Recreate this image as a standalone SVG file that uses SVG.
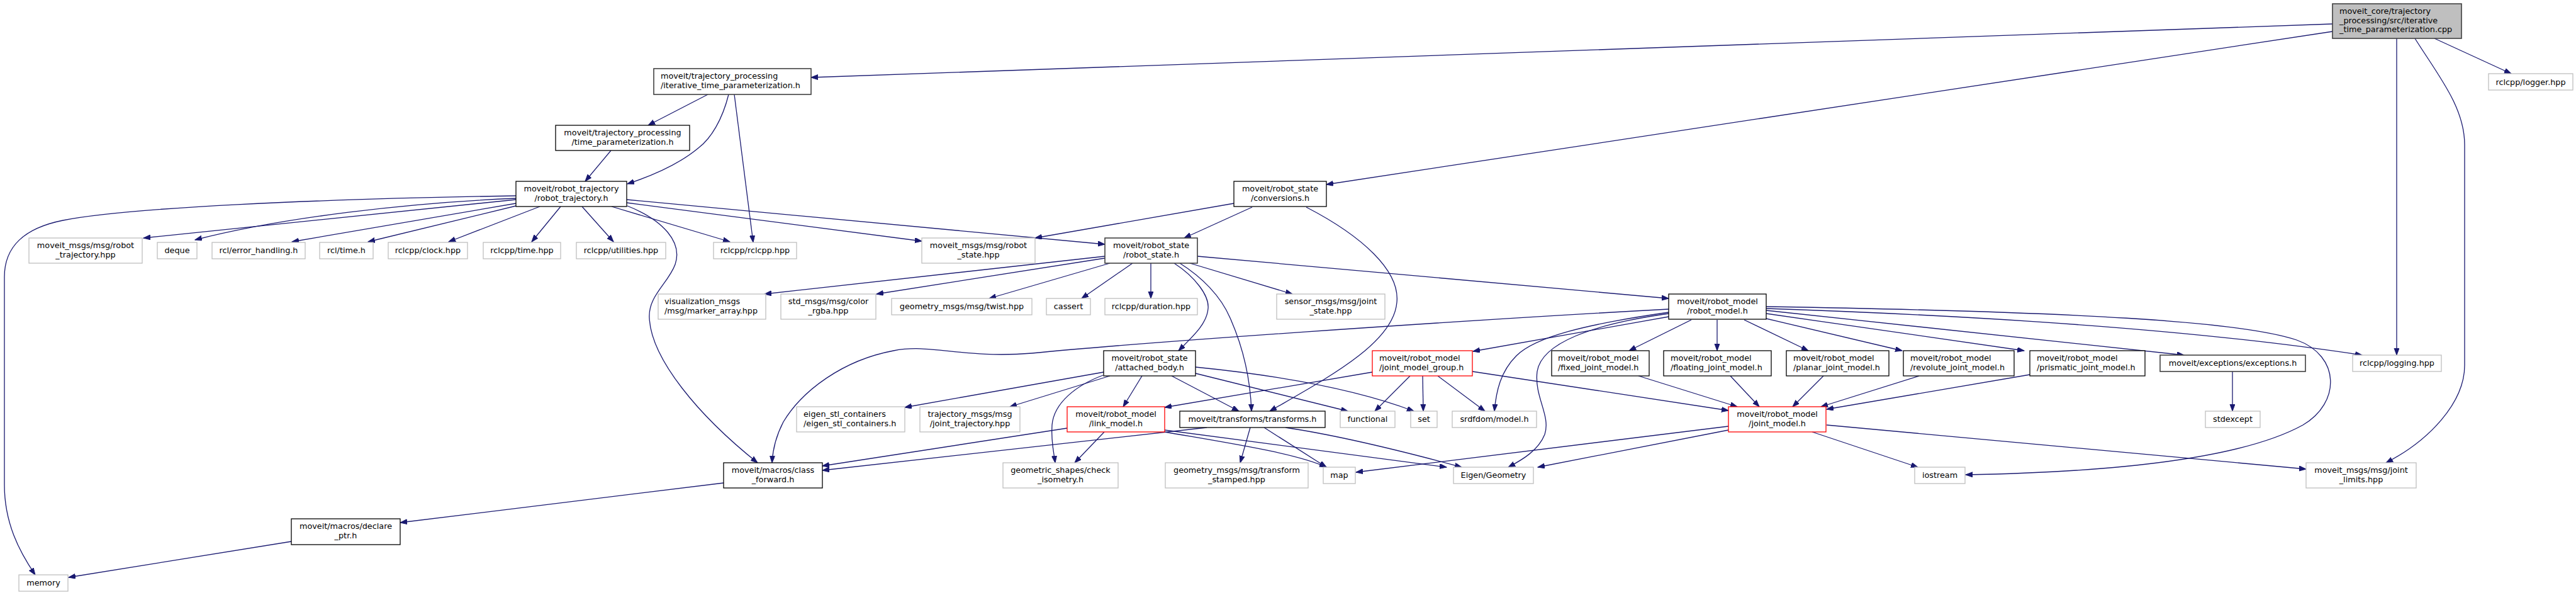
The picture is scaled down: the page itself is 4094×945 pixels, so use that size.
<svg xmlns="http://www.w3.org/2000/svg" width="4094" height="945" viewBox="0 0 4094 945">
<style>
.bg{fill:#ffffff}
.gray{fill:#ffffff;stroke:#bfbfbf;stroke-width:1.3}
.blk{fill:#ffffff;stroke:#000000;stroke-width:1.3}
.dk{fill:#ffffff;stroke:#404040;stroke-width:1.6}
.red{fill:#ffffff;stroke:#ff0000;stroke-width:1.3}
.root{fill:#bfbfbf;stroke:#404040;stroke-width:1.6}
text{font-family:'DejaVu Sans','Liberation Sans',sans-serif;font-size:12.8px;fill:#000000}
.c{text-anchor:middle}
.e path{fill:none;stroke:#191970;stroke-width:1.3;marker-end:url(#ah)}
</style>
<defs>
<marker id="ah" markerWidth="12" markerHeight="10" refX="11" refY="4" orient="auto" markerUnits="userSpaceOnUse"><path d="M0,0 L11,4 L0,8 Z" fill="#191970" stroke="#191970" stroke-width="1"/></marker>
</defs>
<rect class="bg" x="0" y="0" width="4094" height="945"/>
<g id="connectors" class="e">
<path d="M3707,38 L1289,123"/>
<path d="M3707,50 L2108,293"/>
<path d="M3869,61 L3991,117"/>
<path d="M3809,61 L3809,564"/>
<path d="M3838,61 C3875,120 3917,170 3917,230 L3917,580 C3917,640 3860,700 3792,735"/>
<path d="M1125,150 L1030,199"/>
<path d="M1158,150 C1148,190 1130,220 1110,235 C1080,260 1040,278 997,292"/>
<path d="M1167,150 L1197,385"/>
<path d="M971,239 L930,288"/>
<path d="M820,311 C500,316 200,330 100,350 C40,362 7,390 7,440 L7,770 C7,830 30,875 56,913"/>
<path d="M820,315 C650,322 450,345 310,381"/>
<path d="M820,317 L228,378"/>
<path d="M820,323 L464,384"/>
<path d="M820,327 L585,384"/>
<path d="M858,328 L713,384"/>
<path d="M891,328 L845,384"/>
<path d="M925,328 L975,384"/>
<path d="M972,328 L1160,384"/>
<path d="M997,327 C1055,350 1085,385 1073,420 C1062,450 1030,470 1032,505 C1035,570 1110,660 1204,735"/>
<path d="M996,317 L1756,388"/>
<path d="M996,322 L1465,383"/>
<path d="M1961,323 L1645,378"/>
<path d="M1990,329 L1882,378"/>
<path d="M2076,329 C2165,375 2225,430 2220,480 C2215,545 2110,600 2018,653"/>
<path d="M1756,407 L1215,467"/>
<path d="M1756,410 L1393,467"/>
<path d="M1764,418 L1572,474"/>
<path d="M1800,418 L1719,474"/>
<path d="M1829,418 L1829,474"/>
<path d="M1866,418 C1900,440 1922,470 1920,490 C1918,515 1895,535 1873,557"/>
<path d="M1875,418 C1910,440 1940,470 1955,505 C1975,550 1987,600 1989,653"/>
<path d="M1891,418 L2054,467"/>
<path d="M1903,407 L2652,474"/>
<path d="M2652,491 C2300,510 1800,545 1640,561 C1530,570 1480,545 1420,557 C1340,572 1275,620 1245,670 C1232,695 1228,715 1227,735"/>
<path d="M1696,680 L1307,740"/>
<path d="M1918,679 L1307,747"/>
<path d="M1150,767 L636,830"/>
<path d="M463,860 L109,917"/>
<path d="M1754,591 L1438,647"/>
<path d="M1764,597 L1605,646"/>
<path d="M1753,596 C1710,612 1675,640 1672,675 C1670,700 1675,720 1677,735"/>
<path d="M1815,597 L1785,646"/>
<path d="M1862,597 L1969,653"/>
<path d="M1900,583 Q2120,605 2247,653"/>
<path d="M1900,593 L2142,653"/>
<path d="M2181,591 L1851,647"/>
<path d="M2241,597 L2185,653"/>
<path d="M2261,597 L2262,653"/>
<path d="M2285,597 L2360,653"/>
<path d="M2340,590 L2747,652"/>
<path d="M1755,686 L1708,735"/>
<path d="M1851,683 Q2100,715 2299,742"/>
<path d="M1851,686 C1960,705 2060,720 2108,742"/>
<path d="M2009,679 L2108,742"/>
<path d="M2043,679 Q2150,695 2323,742"/>
<path d="M1987,679 L1971,735"/>
<path d="M2652,498 C2530,515 2450,545 2443,590 C2438,630 2465,660 2455,690 C2445,715 2420,730 2397,742"/>
<path d="M2652,496 C2520,515 2440,535 2410,565 C2385,590 2378,620 2375,653"/>
<path d="M2652,503 L2341,558"/>
<path d="M2688,508 L2589,557"/>
<path d="M2729,508 L2729,557"/>
<path d="M2772,508 L2874,557"/>
<path d="M2807,506 L3023,557"/>
<path d="M2807,498 L3217,557"/>
<path d="M2807,493 L3471,564"/>
<path d="M2807,490 Q3400,510 3754,564"/>
<path d="M2807,487 C3300,495 3560,510 3650,540 C3720,565 3720,640 3660,675 C3560,730 3350,750 3124,754"/>
<path d="M2604,597 L2761,646"/>
<path d="M2750,597 L2796,646"/>
<path d="M2898,597 L2849,646"/>
<path d="M3050,597 L2894,646"/>
<path d="M3226,595 L2903,650"/>
<path d="M2880,686 L3048,742"/>
<path d="M2903,675 L3665,745"/>
<path d="M2747,677 L2155,750"/>
<path d="M2747,683 L2444,742"/>
<path d="M3548,590 L3548,653"/>
</g>
<g id="n_root"><rect class="root" x="3707" y="6" width="205" height="55"/><text x="3718" y="22">moveit_core/trajectory</text><text x="3718" y="37">_processing/src/iterative</text><text x="3718" y="51">_time_parameterization.cpp</text></g>
<g id="n_iterative"><rect class="dk" x="1039" y="109" width="250" height="41"/><text x="1050" y="125">moveit/trajectory_processing</text><text x="1050" y="140">/iterative_time_parameterization.h</text></g>
<g id="n_time_param"><rect class="blk" x="883" y="199" width="213" height="40"/><text class="c" x="989.5" y="215">moveit/trajectory_processing</text><text class="c" x="989.5" y="229.5">/time_parameterization.h</text></g>
<g id="n_robot_trajectory"><rect class="blk" x="820" y="288" width="176" height="40"/><text class="c" x="908" y="304">moveit/robot_trajectory</text><text class="c" x="908" y="318.5">/robot_trajectory.h</text></g>
<g id="n_conversions"><rect class="blk" x="1961" y="288" width="147" height="40"/><text class="c" x="2034.5" y="304">moveit/robot_state</text><text class="c" x="2034.5" y="318.5">/conversions.h</text></g>
<g id="n_logger"><rect class="gray" x="3955" y="117" width="134" height="26"/><text class="c" x="4022" y="134.5">rclcpp/logger.hpp</text></g>
<g id="n_rt_hpp"><rect class="gray" x="46" y="378" width="180" height="40"/><text class="c" x="136" y="394">moveit_msgs/msg/robot</text><text class="c" x="136" y="408.5">_trajectory.hpp</text></g>
<g id="n_deque"><rect class="gray" x="250" y="385" width="63" height="26"/><text class="c" x="281.5" y="402">deque</text></g>
<g id="n_error_handling"><rect class="gray" x="337" y="385" width="148" height="26"/><text class="c" x="411" y="402">rcl/error_handling.h</text></g>
<g id="n_rcl_time"><rect class="gray" x="508" y="385" width="85" height="26"/><text class="c" x="550.5" y="402">rcl/time.h</text></g>
<g id="n_clock"><rect class="gray" x="617" y="385" width="126" height="26"/><text class="c" x="680" y="402">rclcpp/clock.hpp</text></g>
<g id="n_rclcpp_time"><rect class="gray" x="768" y="385" width="123" height="26"/><text class="c" x="829.5" y="402">rclcpp/time.hpp</text></g>
<g id="n_utilities"><rect class="gray" x="916" y="385" width="142" height="26"/><text class="c" x="987" y="402">rclcpp/utilities.hpp</text></g>
<g id="n_rclcpp"><rect class="gray" x="1134" y="385" width="132" height="26"/><text class="c" x="1200" y="402">rclcpp/rclcpp.hpp</text></g>
<g id="n_rs_hpp"><rect class="gray" x="1465" y="378" width="180" height="40"/><text class="c" x="1555" y="394">moveit_msgs/msg/robot</text><text class="c" x="1555" y="408.5">_state.hpp</text></g>
<g id="n_robot_state"><rect class="dk" x="1756" y="378" width="147" height="40"/><text class="c" x="1829.5" y="394">moveit/robot_state</text><text class="c" x="1829.5" y="408.5">/robot_state.h</text></g>
<g id="n_visualization"><rect class="gray" x="1046" y="467" width="171" height="40"/><text x="1056" y="483">visualization_msgs</text><text x="1056" y="497.5">/msg/marker_array.hpp</text></g>
<g id="n_color_rgba"><rect class="gray" x="1241" y="467" width="151" height="40"/><text class="c" x="1316.5" y="483">std_msgs/msg/color</text><text class="c" x="1316.5" y="497.5">_rgba.hpp</text></g>
<g id="n_twist"><rect class="gray" x="1417" y="474" width="223" height="26"/><text class="c" x="1528.5" y="491">geometry_msgs/msg/twist.hpp</text></g>
<g id="n_cassert"><rect class="gray" x="1663" y="474" width="70" height="26"/><text class="c" x="1698" y="491">cassert</text></g>
<g id="n_duration"><rect class="gray" x="1756" y="474" width="147" height="26"/><text class="c" x="1829.5" y="491">rclcpp/duration.hpp</text></g>
<g id="n_joint_state"><rect class="gray" x="2029" y="467" width="172" height="40"/><text class="c" x="2115" y="483">sensor_msgs/msg/joint</text><text class="c" x="2115" y="497.5">_state.hpp</text></g>
<g id="n_robot_model"><rect class="blk" x="2652" y="467" width="155" height="40"/><text class="c" x="2729.5" y="483">moveit/robot_model</text><text class="c" x="2729.5" y="497.5">/robot_model.h</text></g>
<g id="n_attached_body"><rect class="blk" x="1754" y="557" width="146" height="40"/><text class="c" x="1827" y="573">moveit/robot_state</text><text class="c" x="1827" y="587.5">/attached_body.h</text></g>
<g id="n_jmg"><rect class="red" x="2181" y="557" width="159" height="40"/><text x="2192" y="573">moveit/robot_model</text><text x="2192" y="587.5">/joint_model_group.h</text></g>
<g id="n_fixed"><rect class="blk" x="2466" y="557" width="155" height="40"/><text x="2476" y="573">moveit/robot_model</text><text x="2476" y="587.5">/fixed_joint_model.h</text></g>
<g id="n_floating"><rect class="blk" x="2644" y="557" width="171" height="40"/><text x="2655" y="573">moveit/robot_model</text><text x="2655" y="587.5">/floating_joint_model.h</text></g>
<g id="n_planar"><rect class="blk" x="2839" y="557" width="163" height="40"/><text x="2850" y="573">moveit/robot_model</text><text x="2850" y="587.5">/planar_joint_model.h</text></g>
<g id="n_revolute"><rect class="blk" x="3025" y="557" width="176" height="40"/><text x="3036" y="573">moveit/robot_model</text><text x="3036" y="587.5">/revolute_joint_model.h</text></g>
<g id="n_prismatic"><rect class="blk" x="3226" y="557" width="183" height="40"/><text x="3237" y="573">moveit/robot_model</text><text x="3237" y="587.5">/prismatic_joint_model.h</text></g>
<g id="n_exceptions"><rect class="dk" x="3433" y="564" width="231" height="26"/><text class="c" x="3548.5" y="581">moveit/exceptions/exceptions.h</text></g>
<g id="n_logging"><rect class="gray" x="3739" y="564" width="141" height="26"/><text class="c" x="3809.5" y="581">rclcpp/logging.hpp</text></g>
<g id="n_eigen_stl"><rect class="gray" x="1266" y="646" width="172" height="40"/><text x="1277" y="662">eigen_stl_containers</text><text x="1277" y="676.5">/eigen_stl_containers.h</text></g>
<g id="n_joint_trajectory"><rect class="gray" x="1462" y="646" width="159" height="40"/><text class="c" x="1541.5" y="662">trajectory_msgs/msg</text><text class="c" x="1541.5" y="676.5">/joint_trajectory.hpp</text></g>
<g id="n_link_model"><rect class="red" x="1696" y="646" width="155" height="40"/><text class="c" x="1773.5" y="662">moveit/robot_model</text><text class="c" x="1773.5" y="676.5">/link_model.h</text></g>
<g id="n_transforms"><rect class="blk" x="1875" y="653" width="231" height="26"/><text class="c" x="1990.5" y="670">moveit/transforms/transforms.h</text></g>
<g id="n_functional"><rect class="gray" x="2130" y="653" width="87" height="26"/><text class="c" x="2173.5" y="670">functional</text></g>
<g id="n_set"><rect class="gray" x="2242" y="653" width="42" height="26"/><text class="c" x="2263" y="670">set</text></g>
<g id="n_srdfdom"><rect class="gray" x="2308" y="653" width="134" height="26"/><text class="c" x="2375" y="670">srdfdom/model.h</text></g>
<g id="n_joint_model"><rect class="red" x="2747" y="646" width="155" height="40"/><text class="c" x="2824.5" y="662">moveit/robot_model</text><text class="c" x="2824.5" y="676.5">/joint_model.h</text></g>
<g id="n_stdexcept"><rect class="gray" x="3505" y="653" width="87" height="26"/><text class="c" x="3548.5" y="670">stdexcept</text></g>
<g id="n_class_forward"><rect class="blk" x="1150" y="735" width="157" height="40"/><text class="c" x="1228.5" y="751">moveit/macros/class</text><text class="c" x="1228.5" y="765.5">_forward.h</text></g>
<g id="n_check_isometry"><rect class="gray" x="1594" y="735" width="183" height="40"/><text class="c" x="1685.5" y="751">geometric_shapes/check</text><text class="c" x="1685.5" y="765.5">_isometry.h</text></g>
<g id="n_transform_stamped"><rect class="gray" x="1852" y="735" width="227" height="40"/><text class="c" x="1965.5" y="751">geometry_msgs/msg/transform</text><text class="c" x="1965.5" y="765.5">_stamped.hpp</text></g>
<g id="n_map"><rect class="gray" x="2103" y="742" width="51" height="26"/><text class="c" x="2128.5" y="759">map</text></g>
<g id="n_eigen_geometry"><rect class="gray" x="2310" y="742" width="127" height="26"/><text class="c" x="2373.5" y="759">Eigen/Geometry</text></g>
<g id="n_iostream"><rect class="gray" x="3043" y="742" width="80" height="26"/><text class="c" x="3083" y="759">iostream</text></g>
<g id="n_joint_limits"><rect class="gray" x="3665" y="735" width="175" height="40"/><text class="c" x="3752.5" y="751">moveit_msgs/msg/joint</text><text class="c" x="3752.5" y="765.5">_limits.hpp</text></g>
<g id="n_declare_ptr"><rect class="blk" x="463" y="824" width="173" height="41"/><text class="c" x="549.5" y="840">moveit/macros/declare</text><text class="c" x="549.5" y="855">_ptr.h</text></g>
<g id="n_memory"><rect class="gray" x="30" y="913" width="78" height="26"/><text class="c" x="69" y="930">memory</text></g>
</svg>
